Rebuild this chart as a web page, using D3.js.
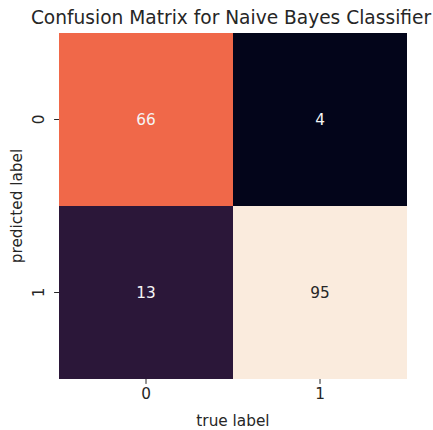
<!DOCTYPE html>
<html lang="en">
<head>
    <meta charset="UTF-8">
    <title>Confusion Matrix</title>
    <script src="https://d3js.org/d3.v7.min.js"></script>
    <style>
        body {
            margin: 0;
            background: #fff;
            overflow: hidden;
        }
        text {
            font-family: "DejaVu Sans", sans-serif;
        }
    </style>
</head>
<body>
    <svg id="chart"></svg>
</body>
<script>
    const trueLabels = ["0", "1"];
    const predictedLabels = ["0", "1"];
    // rows = predicted label, columns = true label
    const counts = [
        [66, 4],
        [13, 95]
    ];

    const width = 433, height = 430;
    const margin = {top: 33, left: 59, right: 26, bottom: 51};
    const plotW = width - margin.left - margin.right;
    const plotH = height - margin.top - margin.bottom;
    const fs = "15.3px";

    const svg = d3.select("#chart")
        .attr("width", width)
        .attr("height", height);

    const cells = [];
    counts.forEach((row, i) => row.forEach((v, j) => cells.push({pred: predictedLabels[i], truth: trueLabels[j], value: v})));

    const x = d3.scaleBand().domain(trueLabels).range([margin.left, margin.left + plotW]);
    const y = d3.scaleBand().domain(predictedLabels).range([margin.top, margin.top + plotH]);

    // seaborn "rocket" approximated with a few stops
    const rocket = d3.scaleLinear()
        .domain([0, 0.1, 0.25, 0.42, 0.55, 0.68, 0.8, 0.92, 1])
        .range(["#03051a", "#2b1739", "#6a1f56", "#b01759", "#d92847", "#f06849", "#f4906a", "#f6c3a4", "#faebdd"])
        .interpolate(d3.interpolateRgb);
    const [vmin, vmax] = d3.extent(cells, d => d.value);
    const norm = d3.scaleLinear().domain([vmin, vmax]).range([0, 1]);
    const color = v => rocket(norm(v));

    svg.append("g").selectAll("rect")
        .data(cells)
        .join("rect")
        .attr("x", d => x(d.truth))
        .attr("y", d => y(d.pred))
        .attr("width", x.bandwidth())
        .attr("height", y.bandwidth())
        .attr("fill", d => color(d.value));

    svg.append("g").selectAll("text")
        .data(cells)
        .join("text")
        .attr("x", d => x(d.truth) + x.bandwidth() / 2)
        .attr("y", d => y(d.pred) + y.bandwidth() / 2)
        .attr("dy", "0.35em")
        .attr("text-anchor", "middle")
        .attr("font-size", fs)
        .attr("fill", d => norm(d.value) > 0.8 ? "#262626" : "#f5f5f5")
        .text(d => d.value);

    const xAxis = svg.append("g")
        .attr("transform", `translate(0,${margin.top + plotH})`)
        .call(d3.axisBottom(x).tickSize(4.9).tickPadding(4));
    xAxis.select(".domain").remove();
    xAxis.selectAll("text").attr("font-size", fs).attr("fill", "#262626").attr("font-family", "DejaVu Sans, sans-serif");
    xAxis.selectAll("line").attr("stroke", "#262626").attr("stroke-width", 1);

    const yAxis = svg.append("g")
        .attr("transform", `translate(${margin.left},0)`)
        .call(d3.axisLeft(y).tickSize(4.9).tickPadding(4));
    yAxis.select(".domain").remove();
    yAxis.selectAll("line").attr("stroke", "#262626").attr("stroke-width", 1);
    yAxis.selectAll("text")
        .attr("font-size", fs)
        .attr("fill", "#262626")
        .attr("font-family", "DejaVu Sans, sans-serif")
        .attr("text-anchor", "middle")
        .attr("x", null)
        .attr("dy", null)
        .attr("transform", "translate(-20,0) rotate(-90)")
        .attr("y", 0)
        .attr("dominant-baseline", "central");

    svg.append("text")
        .attr("x", margin.left + plotW / 2)
        .attr("y", 426)
        .attr("text-anchor", "middle")
        .attr("font-size", fs)
        .attr("fill", "#262626")
        .text("true label");

    svg.append("text")
        .attr("transform", `translate(22,${margin.top + plotH / 2}) rotate(-90)`)
        .attr("text-anchor", "middle")
        .attr("font-size", fs)
        .attr("fill", "#262626")
        .text("predicted label");

    svg.append("text")
        .attr("x", margin.left + plotW / 2 - 2)
        .attr("y", 24)
        .attr("text-anchor", "middle")
        .attr("font-size", "18.6px")
        .attr("fill", "#262626")
        .text("Confusion Matrix for Naive Bayes Classifier");
</script>
</html>
